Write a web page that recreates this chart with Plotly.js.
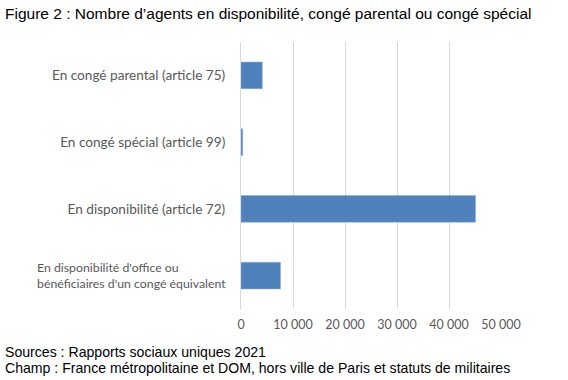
<!DOCTYPE html>
<html><head><meta charset="utf-8">
<script src="https://cdn.plot.ly/plotly-3.0.1.min.js"></script>
<style>body{margin:0;background:#fff}#c{width:568px;height:380px}</style>
</head><body><div id="c"></div>
<script>
const categories = [
  "En congé parental (article 75)",
  "En congé spécial (article 99)",
  "En disponibilité (article 72)",
  "En disponibilité d'office ou<br>bénéficiaires d'un congé équivalent"
];
const values = [4100, 330, 45100, 7600];
const tickVals = [0, 10000, 20000, 30000, 40000, 50000];

const PW = 568 - 241 - 67, PH = 380 - 41.5 - 70.5;
const LABELFONT = {family: 'Lato, sans-serif', size: 13.6, color: '#595959'};
const trace = {
  type: 'bar', orientation: 'h',
  y: categories, x: values,
  marker: {color: '#4f81bd', line: {color: '#8eaedb', width: 0.5}},
  hoverinfo: 'x+y'
};
// multi-line labels drawn as left-aligned annotations (as in the reference)
const multi = categories.map((c, i) => c.includes('<br>') ? i : -1).filter(i => i >= 0);
const tickText = categories.map(c => c.includes('<br>') ? '' : c);
const labelAnns = multi.map(i => ({
  text: categories[i], xref: 'paper', yref: 'y', x: -13/PW, y: categories[i],
  xanchor: 'right', yanchor: 'middle', align: 'left', showarrow: false,
  font: {family: 'Lato, sans-serif', size: 12.3, color: '#595959'}
}));
const layout = {
  width: 568, height: 380,
  margin: {l: 241, r: 67, t: 41.5, b: 70.5},
  paper_bgcolor: '#fff', plot_bgcolor: '#fff',
  separators: ', ',
  showlegend: false,
  bargap: 0.6,
  font: {family: 'Lato, sans-serif', color: '#595959', size: 12},
  xaxis: {
    range: [0, 50000], tickvals: tickVals, tickformat: ',d',
    showgrid: true, gridcolor: '#d9d9d9', gridwidth: 1,
    zeroline: false, showline: false, ticks: '',
    tickfont: {family: 'Lato, sans-serif', size: 12.5, color: '#595959'},
    ticklabelstandoff: 6, fixedrange: true
  },
  yaxis: {
    autorange: 'reversed', showgrid: false, zeroline: false,
    showline: true, linecolor: '#d9d9d9', linewidth: 1, ticks: '',
    tickmode: 'array', tickvals: categories, ticktext: tickText,
    tickfont: LABELFONT,
    ticklabelstandoff: 12, fixedrange: true
  },
  annotations: labelAnns.concat([
    {text: "Figure 2 : Nombre d’agents en disponibilité, congé parental ou congé spécial",
     xref: 'paper', yref: 'paper', x: -238/PW, y: 1 + 28.5/PH, xanchor: 'left', yanchor: 'middle',
     showarrow: false, font: {family: 'Liberation Sans, Arial', size: 15.5, color: '#000'}},
    {text: "Sources : Rapports sociaux uniques 2021",
     xref: 'paper', yref: 'paper', x: -238/PW, y: -43.5/PH, xanchor: 'left', yanchor: 'middle',
     showarrow: false, font: {family: 'Liberation Sans, Arial', size: 14.1, color: '#000'}},
    {text: "Champ : France métropolitaine et DOM, hors ville de Paris et statuts de militaires",
     xref: 'paper', yref: 'paper', x: -238/PW, y: -59.5/PH, xanchor: 'left', yanchor: 'middle',
     showarrow: false, font: {family: 'Liberation Sans, Arial', size: 14.1, color: '#000'}}
  ])
};
Plotly.newPlot('c', [trace], layout, {displayModeBar: false, staticPlot: true});
</script></body></html>
